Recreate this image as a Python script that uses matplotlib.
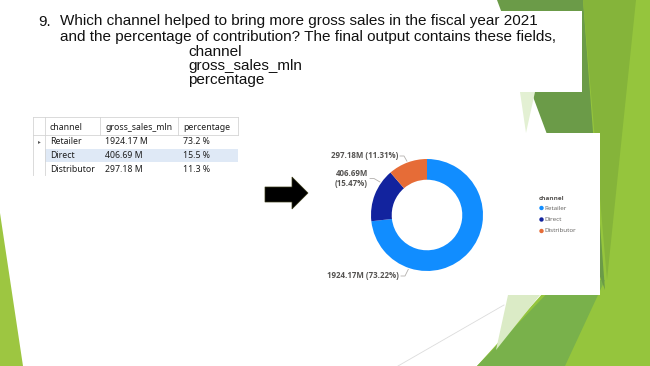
import matplotlib.pyplot as plt
from matplotlib.patches import Polygon, Rectangle
import numpy as np

W, H = 650, 366

# question text on the slide
question_number = "9."
question_lines = [
    "Which channel helped to bring more gross sales in the fiscal year 2021",
    "and the percentage of contribution? The final output contains these fields,",
]
field_names = ["channel", "gross_sales_mln", "percentage"]

# query result (table + donut)
table_columns = ["channel", "gross_sales_mln", "percentage"]
channels = ["Retailer", "Direct", "Distributor"]
gross_sales_mln = [1924.17, 406.69, 297.18]
percentage = [73.22, 15.47, 11.31]
channel_colors = ["#118DFF", "#12239E", "#E66C37"]

fig = plt.figure(figsize=(W / 100, H / 100), dpi=100)
bg = fig.add_axes([0, 0, 1, 1])
bg.set_xlim(0, W)
bg.set_ylim(H, 0)
bg.axis("off")

# slide decoration (green theme shapes)
shapes = [
    ("#95c53d", [(560, 0), (650, 0), (650, 366), (477, 366), (600, 230)]),
    ("#79b14b", [(477, 366), (560, 280), (605, 280), (565, 366)]),
    ("#6b9b48", [(497, 0), (583, 0), (605, 290)]),
    ("#85b43a", [(583, 0), (636, 0), (607, 280)]),
    ("#dbebc6", [(496, 350), (508, 295), (540, 295)]),
    ("#e3f0d3", [(520, 92), (535, 92), (526, 133)]),
    ("#9dc641", [(0, 213), (0, 366), (23, 366)]),
]
for col, pts in shapes:
    bg.add_patch(Polygon(pts, closed=True, facecolor=col, edgecolor="none"))
bg.plot([398, 504], [366, 305], color="#dcdcdc", lw=0.6)

# white boxes (question text, chart screenshot)
bg.add_patch(Rectangle((0, 11), 582, 81, facecolor="white", edgecolor="none"))
bg.add_patch(Rectangle((315, 133), 285, 162, facecolor="white", edgecolor="none"))

# question
tfont = dict(family="Liberation Sans", fontsize=11, color="#111111", va="center")
bg.text(38, 21.5, question_number, **tfont)
for i, line in enumerate(question_lines):
    bg.text(60, 21.5 + 15.5 * i, line, **tfont)
for i, name in enumerate(field_names):
    bg.text(188, 52 + 14 * i, name, **tfont)

# result grid
gfont = dict(family="Noto Sans", fontsize=6.3, color="#1e1e1e", va="center")
col_x = [50, 105, 183]
sep_x = [33, 45, 100, 178, 238]
row_y = [142, 155, 169]
grid_c = "#d4d4d4"
bg.add_patch(Rectangle((45, 149), 193, 12.5, facecolor="#dfe9f6", edgecolor="none"))
bg.plot([33, 238], [117, 117], color=grid_c, lw=0.6)
bg.plot([33, 238], [135, 135], color=grid_c, lw=0.6)
for x in sep_x:
    bg.plot([x, x], [117, 135], color=grid_c, lw=0.6)
bg.plot([33, 33], [135, 175], color=grid_c, lw=0.6)
bg.plot([45, 45], [135, 175], color=grid_c, lw=0.6)
for x, name in zip(col_x, table_columns):
    bg.text(x, 127, name, **gfont)
for y, ch, g, p in zip(row_y, channels, gross_sales_mln, percentage):
    bg.text(col_x[0], y, ch, **gfont)
    bg.text(col_x[1], y, f"{g:.2f} M", **gfont)
    bg.text(col_x[2], y, f"{p:.1f} %", **gfont)
bg.text(39, row_y[0], "\u25B8", fontsize=4, color="#555555", ha="center", va="center")

# arrow
arrow = [(265, 187), (292, 187), (292, 177), (308, 193), (292, 209), (292, 202), (265, 202)]
bg.add_patch(Polygon(arrow, closed=True, facecolor="black", edgecolor="#3a3a18", lw=0.5))

# donut
cx, cy, r = 427, 215, 56
dax = fig.add_axes([(cx - r) / W, 1 - (cy + r) / H, 2 * r / W, 2 * r / H])
dax.pie(gross_sales_mln, colors=channel_colors, startangle=90, counterclock=False,
        radius=1, wedgeprops=dict(width=0.37, edgecolor="none"))
dax.set_xlim(-1, 1)
dax.set_ylim(-1, 1)
dax.axis("off")

# data labels with leader lines
lab_font = dict(family="Open Sans", fontsize=5.7, fontweight="bold", color="#555351",
                ha="right", va="center")
label_anchor = {"Retailer": (399, 276), "Direct": (368, 178.5), "Distributor": (398, 156)}
for ch, g, p in zip(channels, gross_sales_mln, percentage):
    tx, ty = label_anchor[ch]
    txt = f"{g:.2f}M ({p:.2f}%)"
    if ch == "Direct":
        txt = f"{g:.2f}M\n({p:.2f}%)"
    bg.text(tx, ty, txt, linespacing=1.2, **lab_font)
    v = np.array([tx + 7 - cx, ty - cy], dtype=float)
    ex, ey = np.array([cx, cy]) + v / np.linalg.norm(v) * (r + 1.5)
    bg.plot([tx + 2, tx + 6, ex], [ty, ty, ey], color="#b3b0ad", lw=0.6)

# legend
bg.text(539, 198, "channel", family="Open Sans", fontsize=4.6, fontweight="bold",
        color="#555351", va="center")
for i, (ch, col) in enumerate(zip(channels, channel_colors)):
    y = 208 + 11.5 * i
    bg.scatter([541.5], [y], s=10, color=col, edgecolors="none")
    bg.text(544.5, y, ch, family="Open Sans", fontsize=4.5, color="#605E5C", va="center")

fig.savefig("out.png", dpi=100)
